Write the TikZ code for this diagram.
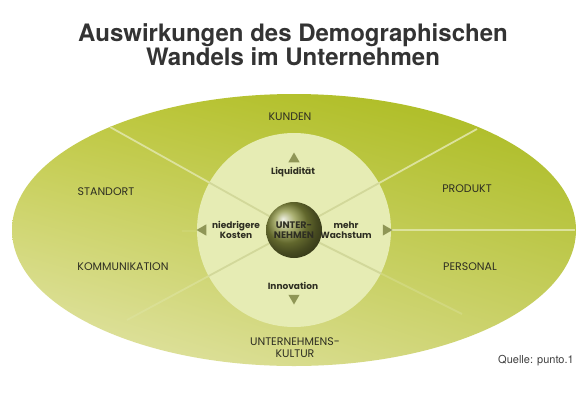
\documentclass[tikz,border=0pt]{standalone}
\usepackage{fontspec}
\setmainfont{Poppins}
\newfontfamily\titlefont{TeX Gyre Heros}
\usetikzlibrary{shapes.geometric, shadings}

\definecolor{olivedark}{HTML}{A8B91C}
\definecolor{olivemid}{HTML}{BFC83E}
\definecolor{olivesoft}{HTML}{CDD36E}
\definecolor{olivelight}{HTML}{E4E6AE}
\definecolor{innerfill}{HTML}{E6ECB4}
\definecolor{lineout}{HTML}{DCE29C}
\definecolor{linein}{HTML}{D2D89A}
\definecolor{tipcol}{HTML}{8F9656}
\definecolor{ballcol}{HTML}{8C9440}
\definecolor{textcol}{HTML}{2E2E22}

\tikzset{
  sector/.style={font=\fontsize{11}{12}\selectfont, text=textcol, align=center},
  inner/.style={font=\bfseries\fontsize{9}{9.5}\selectfont, text=textcol, align=center},
  arrowtip/.style={regular polygon, regular polygon sides=3, fill=tipcol,
    minimum size=13pt, inner sep=0pt},
}

\begin{document}
\begin{tikzpicture}[x=1pt, y=-1pt]
  \useasboundingbox (0,0) rectangle (587,400);
  \fill[white] (0,0) rectangle (587,400);

  % title
  \node[font=\titlefont\bfseries\fontsize{24}{24}\selectfont, text=black!80, align=center]
    (title) at (293,45) {Auswirkungen des Demographischen\\Wandels im Unternehmen};

  \coordinate (O) at (294,230);
  % outer ellipse, dark at upper right
  \begin{scope}
    \clip (O) ellipse [x radius=282, y radius=136];
    \shade[upper right=olivedark, upper left=olivemid, lower left=olivelight,
      lower right=olivesoft] (12,94) rectangle (576,366);
  \end{scope}

  % sector borders
  \coordinate (UL) at (110,127);
  \coordinate (UR) at (477,129);
  \coordinate (R)  at (575,230);
  \coordinate (LR) at (462,314);
  \coordinate (LL) at (127,320);
  \coordinate (L)  at (182,231);
  \draw[lineout, line width=1.8pt] (O) -- (UL);
  \draw[lineout, line width=1.8pt] (O) -- (UR);
  \draw[lineout, line width=1.8pt] (O) -- (R);
  \draw[lineout, line width=1.8pt, opacity=0.7] (O) -- (LL);
  \draw[lineout, line width=1.8pt, opacity=0.4] (O) -- (LR);
  \draw[lineout, line width=1.8pt, opacity=0.2] (O) -- (L);

  % inner circle
  \fill[innerfill] (O) circle (97);
  \begin{scope}
    \clip (O) circle (97);
    \foreach \p in {UL,UR,LR,LL}
      \draw[linein, line width=1.8pt] (O) -- (\p);
  \end{scope}

  % sphere
  \shade[ball color=ballcol] (O) circle (28);
  \node[inner, font=\bfseries\fontsize{9.5}{10}\selectfont] (firm) at (O) {UNTER-\\NEHMEN};

  % outer labels
  \node[sector] (kunden)   at (290,117) {KUNDEN};
  \node[sector] (standort) at (106,192) {STANDORT};
  \node[sector] (komm)     at (123,267) {KOMMUNIKATION};
  \node[sector] (produkt)  at (467,189) {PRODUKT};
  \node[sector] (personal) at (470,267) {PERSONAL};
  \node[sector] (kultur)   at (295,348) {UNTERNEHMENS-\\KULTUR};

  % inner labels with arrows
  \node[inner] (liq)   at (293,172) {Liquidität};
  \node[inner] (inno)  at (293,286) {Innovation};
  \node[inner] (kost)  at (236,230) {niedrigere\\Kosten};
  \node[inner] (wachs) at (346,230) {mehr\\Wachstum};
  \node[arrowtip] (tipup)    at (294,159) {};
  \node[arrowtip, rotate=180] (tipdown) at (294,298) {};
  \node[arrowtip, rotate=90]  (tipleft) at (203,230) {};
  \node[arrowtip, rotate=-90] (tipright) at (386,230) {};

  \node[font=\titlefont\fontsize{11}{12}\selectfont, text=black!75] (quelle) at (536,361) {Quelle: punto.1};
\end{tikzpicture}
\end{document}
